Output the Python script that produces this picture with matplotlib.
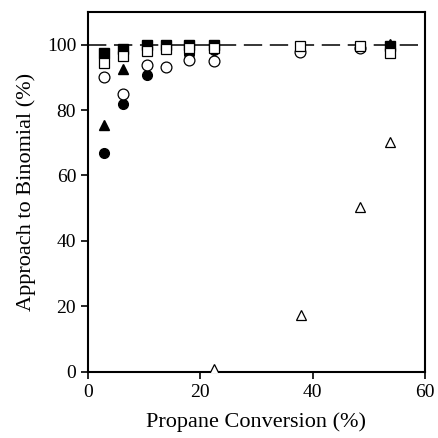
import matplotlib
matplotlib.use("Agg")
import matplotlib.pyplot as plt

plt.rcParams['font.family'] = ['Liberation Serif', 'DejaVu Serif']

# filled squares
fsq_x = [2.85, 6.3, 10.45, 13.9, 18.0, 22.4, 53.8]
fsq_y = [97.3, 98.5, 99.8, 99.8, 100.0, 100.0, 99.5]
# filled circles
fci_x = [2.85, 6.3, 10.45, 18.0, 22.4]
fci_y = [66.9, 81.8, 90.6, 97.2, 98.3]
# filled triangles
ftr_x = [2.85, 6.3, 53.8]
ftr_y = [75.3, 92.4, 100.3]
# open squares
osq_x = [2.85, 6.3, 10.45, 13.9, 18.0, 22.4, 37.7, 48.4, 53.8]
osq_y = [94.4, 96.4, 97.9, 98.7, 98.8, 99.0, 99.5, 99.5, 97.4]
# open circles
oci_x = [2.85, 6.3, 10.45, 13.9, 18.0, 22.4, 37.7, 48.4]
oci_y = [90.1, 84.8, 93.7, 93.2, 95.2, 95.0, 97.7, 99.1]
# open triangles
otr_x = [22.5, 38.0, 48.4, 53.8]
otr_y = [1.0, 17.3, 50.4, 70.2]

fig = plt.figure(figsize=(4.38, 4.38), dpi=100)
ax = fig.add_axes([0.201, 0.151, 0.769, 0.822])

ax.axhline(100, color='black', lw=1.1, ls=(0, (12, 5)), zorder=1)

ax.plot(fci_x, fci_y, 'o', color='black', ms=7, ls='none', zorder=3)
ax.plot(ftr_x, ftr_y, '^', color='black', ms=7, ls='none', zorder=3)
ax.plot(oci_x, oci_y, 'o', mfc='white', mec='black', mew=0.9, ms=7.8, ls='none', zorder=3)
ax.plot(fsq_x, fsq_y, 's', color='black', ms=6.5, ls='none', zorder=3)
ax.plot(osq_x, osq_y, 's', mfc='white', mec='black', mew=0.9, ms=6.5, ls='none', zorder=4)
ax.plot(otr_x, otr_y, '^', mfc='white', mec='black', mew=0.9, ms=7, ls='none', zorder=3)

ax.set_xlim(0, 60)
ax.set_ylim(0, 110)
ax.set_xticks([0, 20, 40, 60])
ax.set_yticks([0, 20, 40, 60, 80, 100])
ax.tick_params(direction='out', length=5, width=1.2, labelsize=14, colors='black')
for s in ax.spines.values():
    s.set_linewidth(1.5)

ax.set_xlabel("Propane Conversion (%)", fontsize=16, labelpad=8)
ax.set_ylabel("Approach to Binomial (%)", fontsize=16, labelpad=8)

fig.savefig("out.png", dpi=100)
